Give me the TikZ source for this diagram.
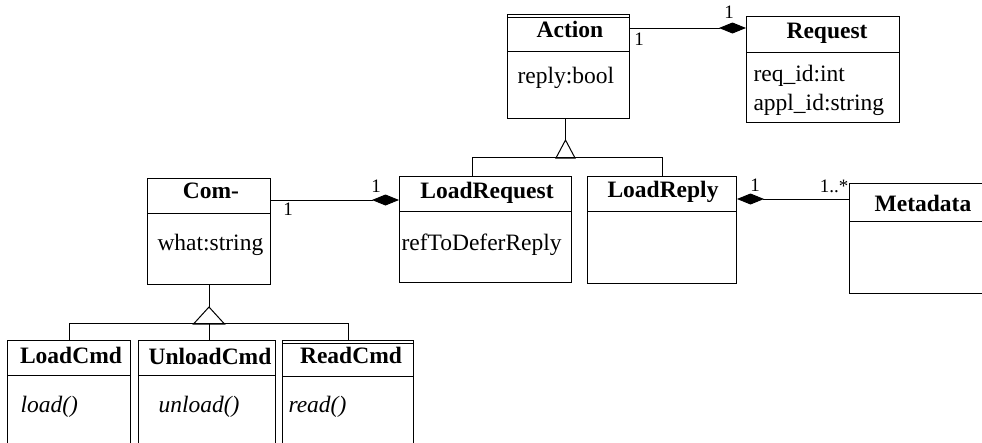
\documentclass[tikz,border=0pt]{standalone}
\usepackage{fontspec}
\setmainfont{Liberation Serif}
\usetikzlibrary{arrows.meta}
\tikzset{
  classbox/.style={draw, rectangle, anchor=north west, inner sep=0pt},
  title/.style={anchor=base, inner sep=0pt, font=\fontsize{23.5}{28}\selectfont\bfseries},
  attr/.style={anchor=base west, inner sep=0pt},
  mult/.style={inner sep=0pt, font=\fontsize{19}{22}\selectfont},
  compose/.style={-{Diamond[length=27pt,width=11pt]}}
}
\begin{document}
\begin{tikzpicture}[x=1pt, y=-1pt, line width=1pt, line join=miter, font=\fontsize{23.5}{28}\selectfont]
            \useasboundingbox (0,0) rectangle (982,442);
            \clip (0,0) rectangle (982,442);
            % class boxes
            \node[classbox, minimum width=122pt, minimum height=104pt] (action) at (507,14) {};
            \node[classbox, minimum width=153pt, minimum height=106pt] (request) at (746,16) {};
            \node[classbox, minimum width=123pt, minimum height=106pt] (com) at (147,178) {};
            \node[classbox, minimum width=172pt, minimum height=106pt] (loadreq) at (399,176) {};
            \node[classbox, minimum width=149pt, minimum height=107pt] (loadreply) at (587,176) {};
            \node[classbox, minimum width=150pt, minimum height=110pt] (metadata) at (849,183) {};
            \node[classbox, minimum width=123pt, minimum height=130pt] (loadcmd) at (7,340) {};
            \node[classbox, minimum width=137pt, minimum height=130pt] (unloadcmd) at (138,340) {};
            \node[classbox, minimum width=131pt, minimum height=130pt] (readcmd) at (282,340) {};
            \foreach \n/\d in {action/37, request/36, com/35, loadreq/35, loadreply/35,
                metadata/38, loadcmd/35, unloadcmd/35, readcmd/36}
              \draw ([yshift=-\d pt]\n.north west) -- ([yshift=-\d pt]\n.north east);
            \draw ([yshift=-3pt]action.north west) -- ([yshift=-3pt]action.north east)
            ([yshift=-3pt]readcmd.north west) -- ([yshift=-3pt]readcmd.north east);
            % names
            \node[title] (actiont) at (570,37) {Action};
            \node[title] (requestt) at (827,38) {Request};
            \node[title] (comt) at (211,198) {Com-};
            \node[title] (loadreqt) at (487,198) {LoadRequest};
            \node[title] (loadreplyt) at (663,197) {LoadReply};
            \node[title] (metadatat) at (923,211) {Metadata};
            \node[title] (loadcmdt) at (71,363) {LoadCmd};
            \node[title] (unloadcmdt) at (210,364) {UnloadCmd};
            \node[title] (readcmdt) at (351,363) {ReadCmd};
            % attributes and operations
            \node[attr] (actiona) at (517,83) {reply:bool};
            \node[attr] (requesta) at (753,81) {req\_id:int};
            \node[attr] (requestb) at (753,110) {appl\_id:string};
            \node[attr] (coma) at (157,250) {what:string};
            \node[attr] (loadreqa) at (401,250) {refToDeferReply};
            \node[attr] (loadcmda) at (20,412) {\itshape load()};
            \node[attr] (unloadcmda) at (158,412) {\itshape unload()};
            \node[attr] (readcmda) at (288,412) {\itshape read()};
            % compositions
            \draw[compose] ([yshift=-14pt]action.north east) -- ([yshift=-12pt]request.north west);
            \draw[compose] ([yshift=-22pt]com.north east) -- ([yshift=-24pt]loadreq.north west);
            \draw[compose] ([yshift=-16pt]metadata.north west) -- ([yshift=-23pt]loadreply.north east);
            \node[mult] (m1) at (639,39) {1};
            \node[mult] (m2) at (729,12) {1};
            \node[mult] (m3) at (288,209) {1};
            \node[mult] (m4) at (376,186) {1};
            \node[mult] (m5) at (755,185) {1};
            \node[mult] (m6) at (834,186) {1..*};
            % generalizations
            \draw ([xshift=-3pt]action.south) -- ++(0,21) coordinate (atop);
            \draw (atop) -- ++(-9.5,18) -- ++(19,0) -- cycle;
            \draw ([xshift=-13pt]loadreq.north) -- ++(0,-19) -| (loadreply.north);
            \draw (com.south) -- ++(0,22) coordinate (ctop);
            \draw (ctop) -- ++(-15.5,17) -- ++(31,0) -- cycle;
            \draw (loadcmd.north) -- ++(0,-17) -| (readcmd.north);
            \draw ([xshift=2pt]unloadcmd.north) -- ++(0,-17);
        \end{tikzpicture}
\end{document}
